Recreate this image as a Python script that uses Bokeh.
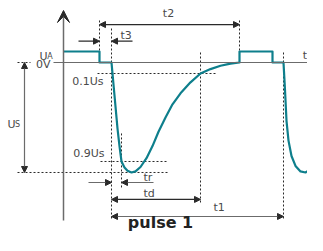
from bokeh.plotting import figure
from bokeh.models import Range1d, Arrow, VeeHead, NormalHead, Label
from bokeh.embed import file_html
from bokeh.resources import INLINE

# ---- data (time in arbitrary units, voltage in % of Us) ----
pulse_t = [0, 36, 36, 48, 50, 52, 54, 55, 56, 57, 58, 61, 64, 68, 72, 77, 83, 89, 95, 102,
           109, 117, 127, 137, 147, 157, 167, 176, 176, 209, 209, 220, 221.5, 223, 225, 228,
           232, 237, 242, 247, 251, 254]
pulse_u = [10, 10, 0, 0, -20, -40, -60, -68, -76, -83, -90, -95.5, -98.5, -100, -99, -95,
           -87, -76, -63, -50, -38, -28, -18, -10, -6, -3, -1, 0, 10, 10, 0, 0, -25, -53,
           -71, -85, -94, -99, -100, -97, -93, -90]
marks_t = {"t3": 36, "start": 48, "tr": 58, "td": 137, "t2": 176, "t1": 220}
levels_u = {"UA": 10, "0V": 0, "0.1Us": -10, "0.9Us": -90, "Us": -100}

TEAL = "#0e7f8c"
DARK = "#2a2a2a"
GREY = "#6b6b6b"
TXT = "#4a4a4a"
FONT = "DejaVu Sans"

p = figure(width=307, height=235, output_backend="svg", toolbar_location=None,
           x_range=Range1d(-63, 244), y_range=Range1d(-157.273, 56.364),
           min_border=0, outline_line_color=None)
p.axis.visible = False
p.grid.visible = False
p.background_fill_color = "white"
p.border_fill_color = "white"

# axes
p.add_layout(Arrow(x_start=0, y_start=-143.6, x_end=0, y_end=47.3, line_color=GREY,
                   line_width=1.5, end=VeeHead(size=12, fill_color=DARK, line_color=DARK)))
p.add_layout(Arrow(x_start=-10, y_start=0, x_end=259, y_end=0, line_color=GREY,
                   line_width=1.2, end=VeeHead(size=12, fill_color=DARK, line_color=DARK)))

# dotted guide lines
dot = dict(line_color=DARK, line_width=1, line_dash="2 2")
p.line([marks_t["t3"]] * 2, [38.2, levels_u["0V"]], **dot)
p.line([marks_t["start"]] * 2, [30.9, -143.6], **dot)
p.line([marks_t["tr"]] * 2, [-64.5, -114.5], **dot)
p.line([marks_t["td"]] * 2, [9.1, -128.2], **dot)
p.line([marks_t["t2"]] * 2, [38.2, levels_u["UA"]], **dot)
p.line([marks_t["t1"]] * 2, [9.1, -141.8], **dot)
p.line([34, 152], [levels_u["0.1Us"]] * 2, **dot)
p.line([37, 105], [levels_u["0.9Us"]] * 2, **dot)
p.line([-46, 105], [levels_u["Us"]] * 2, **dot)
p.line([-46, -33], [levels_u["0V"]] * 2, **dot)

# waveform
p.line(pulse_t, pulse_u, line_color=TEAL, line_width=2.2, line_join="round")

def head():
    return NormalHead(size=6, fill_color=DARK, line_color=DARK)

def arrow(x0, y0, x1, y1, color=DARK, both=False):
    p.add_layout(Arrow(x_start=x0, y_start=y0, x_end=x1, y_end=y1, line_color=color,
                       line_width=1.2, end=head(), start=head() if both else None))

# Us dimension
arrow(-39, levels_u["0V"], -39, levels_u["Us"], color=GREY, both=True)
# t3
arrow(15, 19.4, marks_t["t3"], 19.4)
arrow(69, 19.4, marks_t["start"], 19.4)
# t2
arrow(marks_t["t3"], 34.5, marks_t["t2"], 34.5, both=True)
# tr
arrow(25, -109.1, marks_t["start"], -109.1, color=GREY)
arrow(90, -109.1, marks_t["tr"], -109.1, color=GREY)
# td
arrow(marks_t["start"], -124.5, marks_t["td"], -124.5, both=True)
# t1
arrow(marks_t["start"], -140, marks_t["t1"], -140, color=GREY, both=True)

def label(x, y, text, size=11, align="left", baseline="middle", color=TXT, style="normal"):
    p.add_layout(Label(x=x, y=y, text=text, text_font=FONT, text_font_size=f"{size}px",
                       text_align=align, text_baseline=baseline, text_color=color,
                       text_font_style=style, text_line_height=1.0))

label(-24, 5.9, "U", baseline="alphabetic")
label(-16.3, 5.9, "A", size=8, baseline="alphabetic")
label(-13, -1.4, "0V", align="right")
label(40, -17.3, "0.1Us", align="right")
label(41, -82.3, "0.9Us", align="right")
label(-56, -56, "U", baseline="alphabetic")
label(-48.5, -56, "S", size=8, baseline="alphabetic")
label(57, 24.1, "t3")
label(105, 44.1, "t2", align="center")
label(241.5, 6.1, "t", align="center")
label(80, -104.1, "tr")
label(80, -119.5, "td")
label(150, -131.8, "t1")
label(97, -145.5, "pulse 1", size=16, align="center", baseline="middle",
      color="#222222", style="bold")

open("out.html", "w").write(file_html(p, INLINE))
